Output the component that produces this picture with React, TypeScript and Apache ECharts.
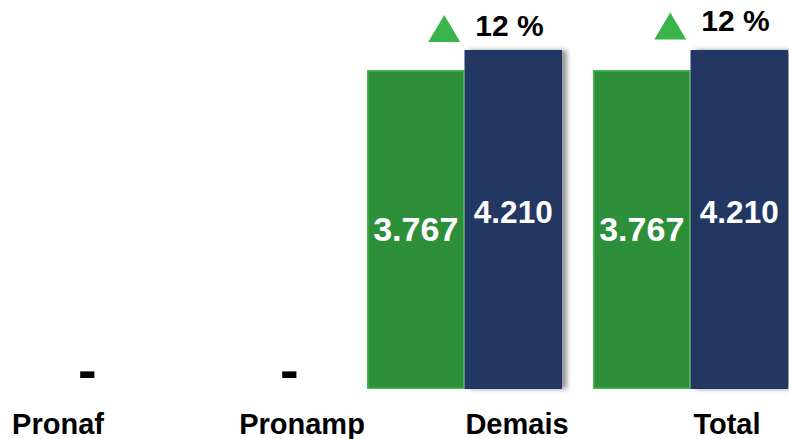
import React, { useEffect, useRef } from 'react';
import * as echarts from 'echarts';

// ---- data ----
const categories = ['Pronaf', 'Pronamp', 'Demais', 'Total'];
const valuesGreen = [0, 0, 3767, 3767];
const valuesBlue = [0, 0, 4210, 4210];
const growthPct: (number | null)[] = [null, null, 12, 12];

// ---- styling ----
const GREEN = '#2E8F3A';
const GREEN_BORDER = '#46B84E';
const BLUE = '#203864';
const TRI = '#3BB34B';
const FONT = '"Liberation Sans", Arial, Helvetica, sans-serif';

const labelPadLeft = [91, 127, 105, 73];
const dashOffsetX = [26, 2, 0, 0];
const triDy = [0, 0, -21.5, -24];
const pctDy = [0, 0, -3, -5];

const fmt = (n: number) => String(n).replace(/\B(?=(\d{3})+(?!\d))/g, '.');

export default function App() {
  const ref = useRef<HTMLDivElement>(null);

  useEffect(() => {
    if (!ref.current) return;
    const chart = echarts.init(ref.current, undefined, { renderer: 'svg' });

    const rich: Record<string, any> = {};
    categories.forEach((_, i) => {
      rich['c' + i] = {
        fontFamily: FONT,
        fontSize: 29,
        fontWeight: 'bold',
        color: '#000',
        lineHeight: 29,
        padding: [0, 0, 0, labelPadLeft[i]],
      };
    });

    const greenData = valuesGreen.map((v) =>
      v === 0 ? { value: v, itemStyle: { borderWidth: 0 } } : v
    );

    const blueData = valuesBlue.map((v, i) =>
      v === 0
        ? {
            value: v,
            label: {
              position: 'inside',
              offset: [dashOffsetX[i], -20],
              color: '#000',
              fontSize: 56,
            },
          }
        : v
    );

    const markData = growthPct
      .map((g, i) =>
        g == null
          ? null
          : {
              coord: [categories[i], valuesBlue[i]],
              value: g,
              symbol: 'triangle',
              symbolSize: [32, 27],
              symbolOffset: [-69, triDy[i]],
              itemStyle: { color: TRI },
              label: { offset: [0, pctDy[i]] },
            }
      )
      .filter(Boolean);

    chart.setOption({
      animation: false,
      grid: { left: -100.5, right: -14.5, top: 30, bottom: 50, outerBoundsMode: 'none', containLabel: false },
      xAxis: {
        type: 'category',
        data: categories,
        axisLine: { show: false },
        axisTick: { show: false },
        splitLine: { show: false },
        axisLabel: {
          margin: 20.5,
          interval: 0,
          formatter: (val: string, idx: number) => `{c${idx}|${val}}`,
          rich,
        },
      },
      yAxis: [
        { type: 'value', min: 0, max: 4239, show: false, splitLine: { show: false } },
        { type: 'value', min: 0, max: 4458, show: false, splitLine: { show: false } },
      ],
      series: [
        {
          type: 'bar',
          yAxisIndex: 0,
          data: greenData,
          barWidth: 97.5,
          barGap: '0%',
          itemStyle: { color: GREEN, borderColor: GREEN_BORDER, borderWidth: 1.5 },
          label: {
            show: true,
            position: 'inside',
            color: '#fff',
            fontFamily: FONT,
            fontSize: 34,
            fontWeight: 'bold',
            formatter: (p: any) => (p.value ? fmt(p.value) : ''),
          },
        },
        {
          type: 'bar',
          yAxisIndex: 1,
          data: blueData,
          barWidth: 97.5,
          barGap: '0%',
          itemStyle: {
            color: BLUE,
            shadowColor: 'rgba(0,0,0,0.4)',
            shadowBlur: 5,
            shadowOffsetX: 5,
          },
          label: {
            show: true,
            position: 'inside',
            offset: [0, -7],
            color: '#fff',
            fontFamily: FONT,
            fontSize: 31.5,
            fontWeight: 'bold',
            formatter: (p: any) => (p.value ? fmt(p.value) : '-'),
          },
          markPoint: {
            data: markData,
            label: {
              show: true,
              position: 'right',
              distance: 15,
              color: '#000',
              fontFamily: FONT,
              fontSize: 30,
              fontWeight: 'bold',
              formatter: (p: any) => `${p.value} %`,
            },
          },
        },
      ],
    });

    return () => chart.dispose();
  }, []);

  return (
    <div
      ref={ref}
      style={{ position: 'absolute', left: 0, top: 0, width: 789, height: 439, background: '#fff' }}
    />
  );
}
